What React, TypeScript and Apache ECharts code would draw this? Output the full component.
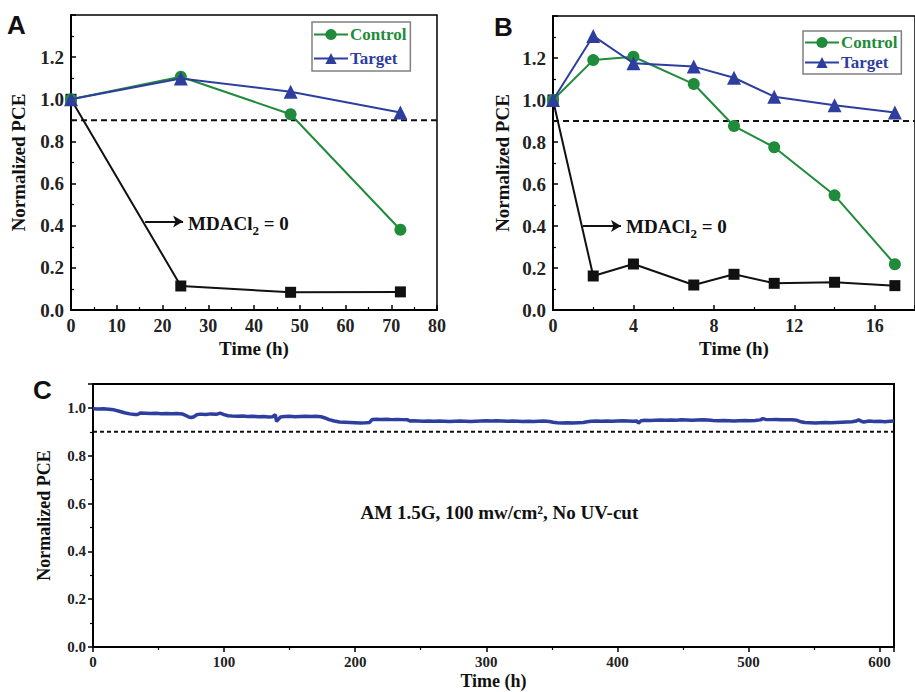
import React, { useEffect, useRef } from "react";
import * as echarts from "echarts";

const FONT = '"Liberation Serif", "Times New Roman", serif';
const SANS = '"Liberation Sans Narrow", "Liberation Sans", Arial, sans-serif';
const GREEN = "#1f8b3b";
const BLUE = "#2e3e9f";
const BLACK = "#111111";

// Panel A
const aTime = [0, 24, 48, 72];
const aControl = [1.0, 1.107, 0.929, 0.381];
const aTarget = [1.0, 1.099, 1.036, 0.937];
const aMDA0 = [1.0, 0.114, 0.084, 0.086];

// Panel B
const bTime = [0, 2, 4, 7, 9, 11, 14, 17];
const bControl = [1.0, 1.19, 1.206, 1.076, 0.876, 0.775, 0.546, 0.218];
const bTarget = [1.0, 1.305, 1.175, 1.159, 1.106, 1.016, 0.975, 0.94];
const bMDA0 = [1.0, 0.162, 0.219, 0.119, 0.17, 0.127, 0.132, 0.116];

// Panel C
const cTime = [
  0, 4, 8, 12, 16, 20, 24, 28, 32, 34, 36, 40, 44, 48, 52, 56, 60, 64, 68, 71,
  73, 75, 77, 79, 82, 86, 90, 94, 97, 100, 103, 106, 110, 114, 118, 122, 126, 130, 134, 137,
  139, 140, 141, 143, 146, 150, 154, 158, 162, 166, 170, 174, 177, 180, 184, 188, 192, 196, 200, 204,
  208, 211, 213, 216, 220, 224, 228, 232, 236, 240, 242, 244, 248, 252, 256, 260, 264, 268, 272, 276,
  280, 284, 288, 292, 296, 300, 304, 308, 312, 316, 320, 324, 328, 332, 336, 340, 344, 348, 351, 354,
  358, 362, 366, 370, 374, 377, 380, 384, 388, 392, 396, 400, 404, 408, 412, 415, 416, 418, 421, 425,
  429, 433, 437, 441, 445, 449, 453, 457, 461, 465, 469, 473, 477, 481, 485, 489, 493, 497, 501, 505,
  509, 511, 513, 517, 521, 525, 529, 533, 537, 540, 543, 547, 551, 555, 559, 563, 567, 571, 575, 579,
  582, 584, 586, 588, 592, 596, 600, 604, 608, 611,
];
const cPCE = [
  0.996, 0.995, 0.996, 0.994, 0.992, 0.986, 0.98, 0.975, 0.972, 0.972, 0.979, 0.978, 0.977, 0.978, 0.976, 0.977, 0.976, 0.977, 0.975, 0.968,
  0.962, 0.96, 0.963, 0.971, 0.974, 0.972, 0.975, 0.973, 0.978, 0.972, 0.967, 0.966, 0.965, 0.966, 0.964, 0.965, 0.963, 0.964, 0.962, 0.963,
  0.972, 0.944, 0.95, 0.962, 0.964, 0.965, 0.963, 0.964, 0.965, 0.964, 0.965, 0.963, 0.958, 0.951, 0.945, 0.941, 0.94, 0.939, 0.938, 0.937,
  0.938, 0.939, 0.952, 0.953, 0.952, 0.953, 0.951, 0.952, 0.951, 0.95, 0.945, 0.946, 0.945, 0.944, 0.945, 0.944, 0.945, 0.944, 0.943, 0.944,
  0.945, 0.944, 0.943, 0.944, 0.945, 0.946, 0.945, 0.946, 0.945, 0.944, 0.945, 0.944, 0.943, 0.944, 0.943, 0.944, 0.945, 0.943, 0.94, 0.938,
  0.937, 0.938, 0.937, 0.938, 0.939, 0.942, 0.944, 0.945, 0.944, 0.945, 0.944, 0.945, 0.946, 0.945, 0.944, 0.945, 0.936, 0.946, 0.948, 0.947,
  0.948, 0.949, 0.948, 0.949, 0.948, 0.95, 0.949, 0.948, 0.949, 0.95, 0.949, 0.947, 0.946, 0.947, 0.946, 0.945, 0.946, 0.947, 0.946, 0.947,
  0.95, 0.955, 0.952, 0.951, 0.952, 0.95, 0.951, 0.95, 0.948, 0.942, 0.939, 0.938, 0.937, 0.938, 0.939, 0.938, 0.939, 0.94, 0.941, 0.942,
  0.945, 0.95, 0.944, 0.941, 0.945, 0.943, 0.944, 0.942, 0.944, 0.945,
];

const threshold = 0.9;
const aRange = [0, 80];
const bRange = [0, 18];
const cRange = [0, 611];

const zip = (x: number[], y: number[]) => x.map((t, i) => [t, y[i]]);

const boldText = (size: number, color = BLACK) => ({
  fontFamily: FONT,
  fontWeight: "bold" as const,
  fontSize: size,
  color,
});

function xAxisCfg(gridIndex: number, range: number[], interval: number, inside: boolean, labelSize: number, nameGap: number, nameSize: number) {
  return {
    gridIndex,
    type: "value",
    min: range[0],
    max: range[1],
    interval,
    name: "Time (h)",
    nameLocation: "middle",
    nameGap,
    nameTextStyle: boldText(nameSize),
    axisLine: { show: true, onZero: false, lineStyle: { color: "#000", width: 2 } },
    axisTick: { show: true, inside, length: 5, lineStyle: { color: "#000", width: 1.5 } },
    minorTick: { show: true, splitNumber: 2, length: 3, lineStyle: { color: "#000", width: 1.2 } },
    splitLine: { show: false },
    axisLabel: { ...boldText(labelSize, "#222"), margin: 7, showMaxLabel: gridIndex === 0 },
  };
}

function yAxisCfg(gridIndex: number, max: number, inside: boolean, labelSize: number, nameGap: number, nameSize: number) {
  return {
    gridIndex,
    type: "value",
    min: 0,
    max,
    interval: 0.2,
    name: "Normalized PCE",
    nameLocation: "middle",
    nameGap,
    nameTextStyle: boldText(nameSize),
    axisLine: { show: true, onZero: false, lineStyle: { color: "#000", width: 2 } },
    axisTick: { show: true, inside, length: 5, lineStyle: { color: "#000", width: 1.5 } },
    minorTick: { show: true, splitNumber: 2, length: 3, lineStyle: { color: "#000", width: 1.2 } },
    splitLine: { show: false },
    axisLabel: {
      ...boldText(labelSize, "#222"),
      margin: 7,
      showMaxLabel: false,
      formatter: (v: number) => v.toFixed(1),
    },
  };
}

const annotationRich = {
  a: { ...boldText(19) },
  s: { ...boldText(13), padding: [13, 0, 0, 0] },
};

function mdaSeries(idx: number, time: number[], vals: number[], arrowFrom: number[], arrowTo: number[], textAt: number[]) {
  return {
    name: "MDACl2 = 0",
    type: "line",
    xAxisIndex: idx,
    yAxisIndex: idx,
    data: zip(time, vals),
    symbol: "rect",
    symbolSize: 11,
    itemStyle: { color: BLACK },
    lineStyle: { color: BLACK, width: 2 },
    z: 2,
    markLine: {
      silent: true,
      symbol: ["none", "arrow"],
      symbolSize: [9, 10],
      lineStyle: { color: BLACK, width: 2, type: "solid" },
      label: { show: false },
      data: [[{ coord: arrowFrom }, { coord: arrowTo }]],
    },
    markPoint: {
      silent: true,
      symbol: "circle",
      symbolSize: 0,
      data: [
        {
          coord: textAt,
          label: {
            show: true,
            position: "right",
            distance: 0,
            formatter: "{a|MDACl}{s|2}{a| = 0}",
            rich: annotationRich,
          },
        },
      ],
    },
  };
}

function dataSeries(idx: number, name: string, time: number[], vals: number[], color: string, symbol: string, size: number, z: number) {
  return {
    name,
    type: "line",
    xAxisIndex: idx,
    yAxisIndex: idx,
    data: zip(time, vals),
    symbol,
    symbolSize: size,
    itemStyle: { color },
    lineStyle: { color, width: 2 },
    z,
  };
}

function thresholdSeries(idx: number, range: number[], dash: number[], width: number) {
  return {
    name: "threshold",
    type: "line",
    xAxisIndex: idx,
    yAxisIndex: idx,
    data: [
      [range[0], threshold],
      [range[1], threshold],
    ],
    symbol: "none",
    silent: true,
    lineStyle: { color: BLACK, width, type: dash },
    z: 1,
  };
}

function legendCfg(left: number, top: number, gap: number, pad: number) {
  return {
    left,
    top,
    orient: "vertical",
    data: [
      { name: "Control", textStyle: { color: GREEN } },
      { name: "Target", textStyle: { color: BLUE } },
    ],
    borderColor: "#808080",
    borderWidth: 1.5,
    padding: [pad, 4, pad, 1],
    itemGap: gap,
    itemWidth: 34,
    itemHeight: 14,
    textStyle: { ...boldText(17), padding: [0, 0, 0, -3] },
  };
}

export default function App() {
  const ref = useRef<HTMLDivElement>(null);
  useEffect(() => {
    if (!ref.current) return;
    const chart = echarts.init(ref.current, undefined, { renderer: "svg" });
    chart.setOption({
      animation: false,
      backgroundColor: "#ffffff",
      grid: [
        { left: 71, top: 15, width: 366, height: 295, show: true, borderColor: "#000", borderWidth: 1.5 },
        { left: 553, top: 16, width: 365, height: 294, show: true, borderColor: "#000", borderWidth: 1.5 },
        { left: 93, top: 384, width: 801, height: 263, show: true, borderColor: "#000", borderWidth: 2 },
      ],
      xAxis: [
        xAxisCfg(0, aRange, 10, true, 18, 29, 19),
        xAxisCfg(1, bRange, 4, true, 18, 29, 19),
        xAxisCfg(2, cRange, 100, false, 15, 25, 18),
      ],
      yAxis: [
        yAxisCfg(0, 1.4, true, 19, 43, 19),
        yAxisCfg(1, 1.4, true, 19, 41, 19),
        yAxisCfg(2, 1.1, false, 15, 40, 18),
      ],
      legend: [legendCfg(312, 22, 7, 4), legendCfg(803, 31, 3, 3)],
      graphic: [
        { type: "text", left: 7, top: 12, style: { text: "A", font: `bold 26px ${SANS}`, fill: "#111" } },
        { type: "text", left: 494, top: 14, style: { text: "B", font: `bold 26px ${SANS}`, fill: "#111" } },
        { type: "text", left: 33, top: 377, style: { text: "C", font: `bold 26px ${SANS}`, fill: "#111" } },
      ],
      series: [
        thresholdSeries(0, aRange, [6, 4], 2),
        mdaSeries(0, aTime, aMDA0, [16.2, 0.42], [24.5, 0.42], [25.6, 0.41]),
        dataSeries(0, "Control", aTime, aControl, GREEN, "circle", 12, 3),
        dataSeries(0, "Target", aTime, aTarget, BLUE, "triangle", 14, 4),

        thresholdSeries(1, bRange, [6, 4], 2),
        mdaSeries(1, bTime, bMDA0, [1.49, 0.4], [3.38, 0.4], [3.63, 0.397]),
        dataSeries(1, "Control", bTime, bControl, GREEN, "circle", 12, 3),
        dataSeries(1, "Target", bTime, bTarget, BLUE, "triangle", 14, 4),

        thresholdSeries(2, cRange, [4, 3], 2),
        {
          name: "Stability",
          type: "line",
          xAxisIndex: 2,
          yAxisIndex: 2,
          data: zip(cTime, cPCE),
          symbol: "none",
          lineStyle: { color: BLUE, width: 3.5 },
          z: 3,
          markPoint: {
            silent: true,
            symbol: "circle",
            symbolSize: 0,
            data: [
              {
                coord: [310, 0.562],
                label: {
                  show: true,
                  position: "inside",
                  formatter: "AM 1.5G, 100 mw/cm², No UV-cut",
                  ...boldText(19),
                },
              },
            ],
          },
        },
      ],
    });
    return () => chart.dispose();
  }, []);
  return (
    <div
      ref={ref}
      style={{ position: "absolute", left: 0, top: 0, width: 915, height: 692, background: "#fff" }}
    />
  );
}
